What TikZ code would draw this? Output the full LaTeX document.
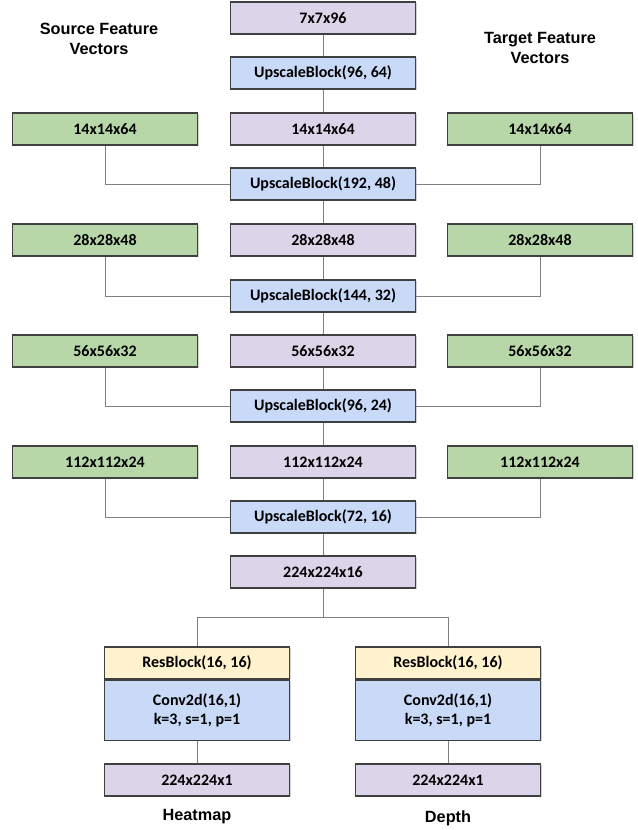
\documentclass[tikz,border=0pt]{standalone}
\usepackage{fontspec}
\setmainfont{Carlito}
\newfontfamily\titlefont{Liberation Sans}
\usetikzlibrary{positioning, shadows}
\definecolor{mypurple}{RGB}{220, 212, 232}
\definecolor{mygreen}{RGB}{183, 215, 168}
\definecolor{myblue}{RGB}{201, 218, 248}
\definecolor{myyellow}{RGB}{255, 242, 204}
\tikzset{
  basebox/.style={
    draw=black!75, line width=1pt, rectangle,
    minimum width=139pt, minimum height=24pt, inner sep=0pt,
    align=center, font=\fontsize{12}{14}\selectfont\bfseries,
    drop shadow={shadow xshift=0.8pt, shadow yshift=-0.8pt, opacity=0.35}
  },
  tensorbox/.style={basebox, fill=mypurple},
  featbox/.style={basebox, fill=mygreen},
  upbox/.style={basebox, fill=myblue},
  resbox/.style={basebox, fill=myyellow},
  convbox/.style={basebox, fill=myblue, minimum height=45pt},
  link/.style={draw=black!50, line width=0.7pt},
  caption/.style={font=\titlefont\fontsize{12.2}{14.5}\selectfont\bfseries, align=center}
}

\begin{document}
\begin{tikzpicture}[x=0.75pt, y=-0.75pt]
  \useasboundingbox (0,0) rectangle (637,830);

  % titles
  \node[caption] (srctitle) at (99,39) {Source Feature\\Vectors};
  \node[caption] (tgttitle) at (540,48) {Target Feature\\Vectors};

  % main column
  \node[tensorbox] (t7) at (323,18) {7x7x96};
  \node[upbox] (up1) at (323,73) {UpscaleBlock(96, 64)};
  \node[tensorbox] (t14) at (323,129) {14x14x64};
  \node[upbox] (up2) at (323,184) {UpscaleBlock(192, 48)};
  \node[tensorbox] (t28) at (323,240) {28x28x48};
  \node[upbox] (up3) at (323,296) {UpscaleBlock(144, 32)};
  \node[tensorbox] (t56) at (323,351) {56x56x32};
  \node[upbox] (up4) at (323,406) {UpscaleBlock(96, 24)};
  \node[tensorbox] (t112) at (323,462) {112x112x24};
  \node[upbox] (up5) at (323,517) {UpscaleBlock(72, 16)};
  \node[tensorbox] (t224) at (323,572) {224x224x16};

  % source and target features
  \node[featbox] (src14) at (105,129) {14x14x64};
  \node[featbox] (tgt14) at (540,129) {14x14x64};
  \node[featbox] (src28) at (105,240) {28x28x48};
  \node[featbox] (tgt28) at (540,240) {28x28x48};
  \node[featbox] (src56) at (105,351) {56x56x32};
  \node[featbox] (tgt56) at (540,351) {56x56x32};
  \node[featbox] (src112) at (105,462) {112x112x24};
  \node[featbox] (tgt112) at (540,462) {112x112x24};

  % heads
  \node[resbox] (resL) at (197,663) {ResBlock(16, 16)};
  \node[convbox, below=0pt of resL] (convL) {Conv2d(16,1)\\k=3, s=1, p=1};
  \node[tensorbox] (outL) at (197,780) {224x224x1};
  \node[resbox] (resR) at (448,663) {ResBlock(16, 16)};
  \node[convbox, below=0pt of resR] (convR) {Conv2d(16,1)\\k=3, s=1, p=1};
  \node[tensorbox] (outR) at (448,780) {224x224x1};
  \node[caption] (heat) at (197,817) {Heatmap};
  \node[caption] (depth) at (448,818) {Depth};

  % connectors
  \draw[link] (t7) -- (up1);
  \draw[link] (up1) -- (t14);
  \draw[link] (t14) -- (up2);
  \draw[link] (up2) -- (t28);
  \draw[link] (t28) -- (up3);
  \draw[link] (up3) -- (t56);
  \draw[link] (t56) -- (up4);
  \draw[link] (up4) -- (t112);
  \draw[link] (t112) -- (up5);
  \draw[link] (up5) -- (t224);
  \draw[link] (src14.south) |- (up2.west);
  \draw[link] (tgt14.south) |- (up2.east);
  \draw[link] (src28.south) |- (up3.west);
  \draw[link] (tgt28.south) |- (up3.east);
  \draw[link] (src56.south) |- (up4.west);
  \draw[link] (tgt56.south) |- (up4.east);
  \draw[link] (src112.south) |- (up5.west);
  \draw[link] (tgt112.south) |- (up5.east);

  \coordinate (split) at (323,617);
  \draw[link] (t224.south) -- (split) -| (resL.north);
  \draw[link] (split) -| (resR.north);
  \draw[link] (convL) -- (outL);
  \draw[link] (convR) -- (outR);
\end{tikzpicture}
\end{document}
